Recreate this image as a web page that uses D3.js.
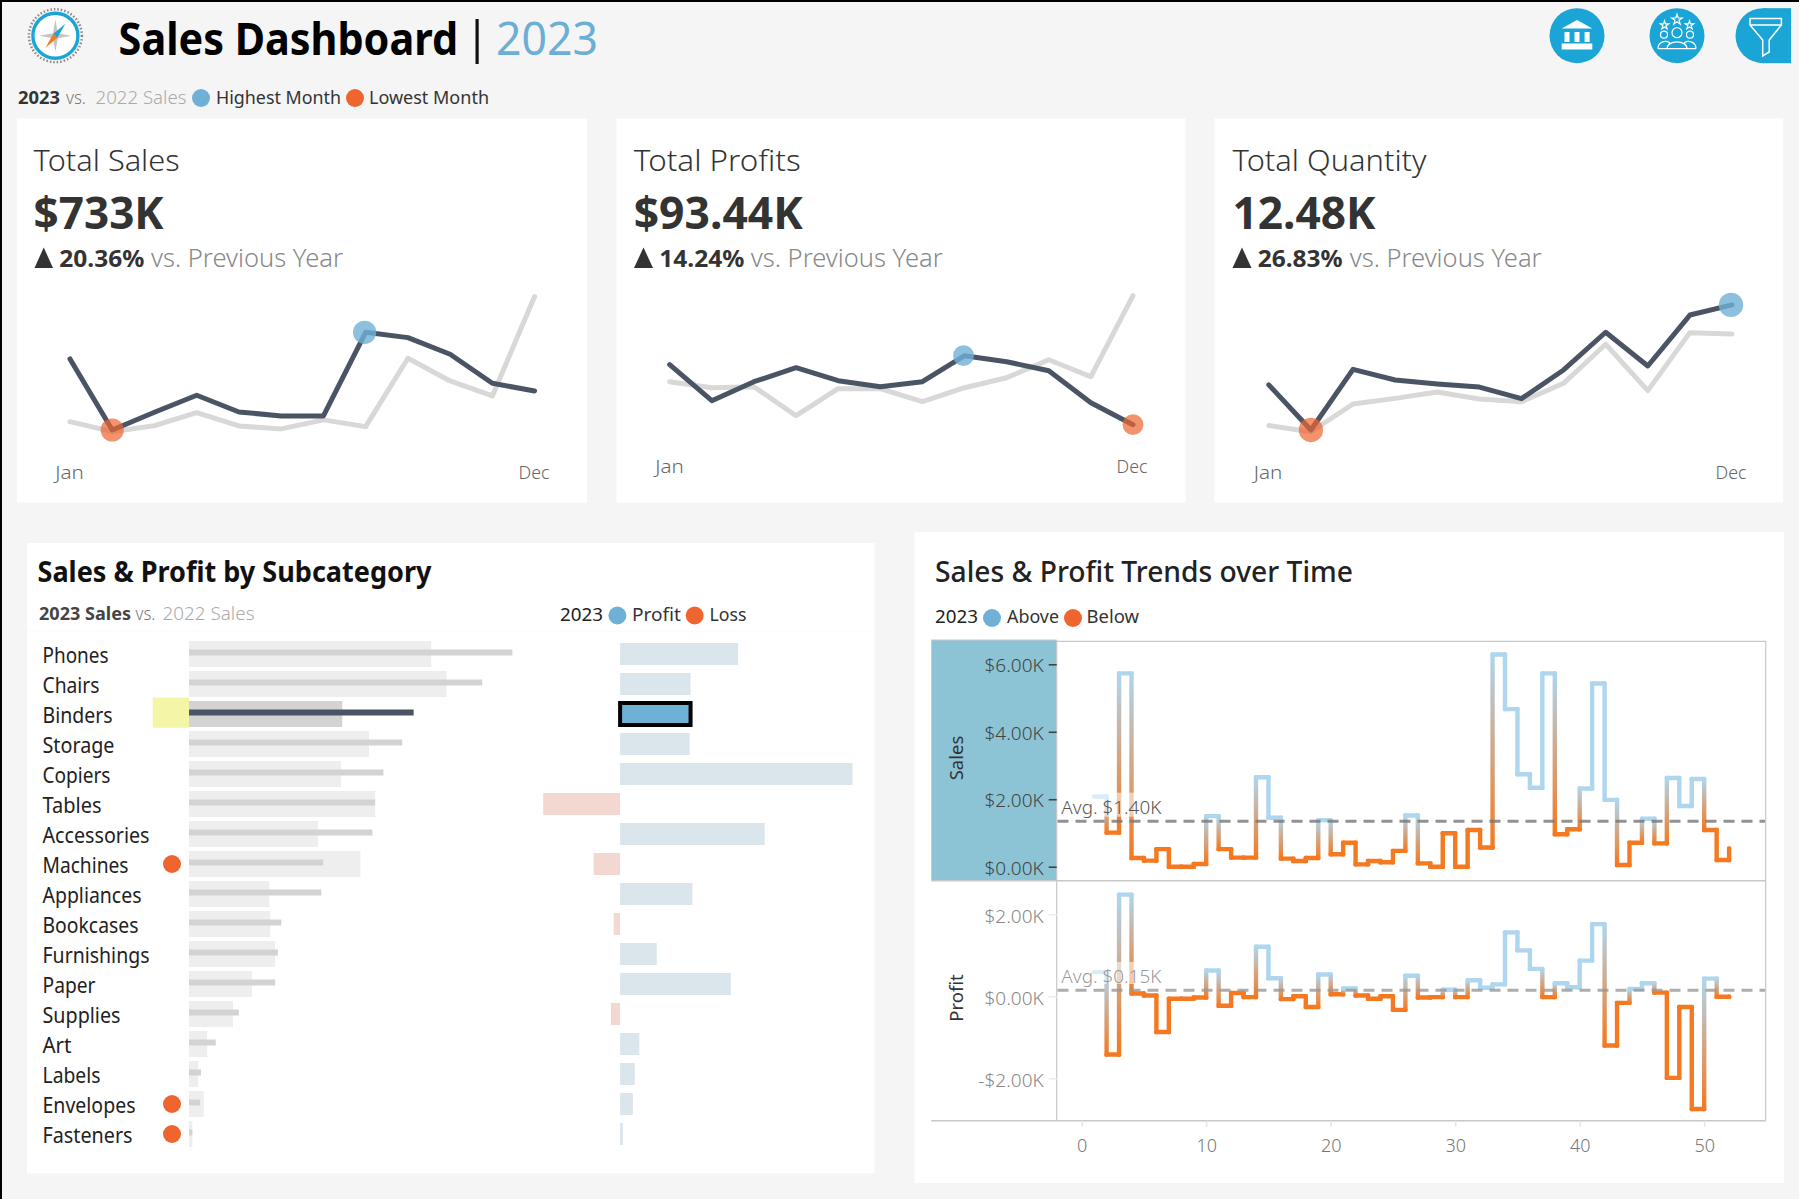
<!DOCTYPE html>
<html><head><meta charset="utf-8">
<script src="https://cdn.jsdelivr.net/npm/d3@7"></script>
<style>html,body{margin:0;padding:0;background:#f5f5f5;overflow:hidden}svg{display:block}text{font-family:"Noto Sans","Open Sans",sans-serif}</style>
</head><body><svg id="c" width="1799" height="1199"></svg>
<script>
const months = ["Jan","Feb","Mar","Apr","May","Jun","Jul","Aug","Sep","Oct","Nov","Dec"];
const sales2023 = [81.4,29.4,42.4,54.8,42.6,39.7,39.7,100.9,97,84.8,63.6,58];
const sales2022 = [35.5,28.2,32.6,42.1,32.4,30.2,36.8,31.9,81.9,65.3,54.3,127];
const profit2023 = [9.5,5.9,7.8,9.2,7.9,7.3,7.8,10.4,9.8,8.9,5.7,3.5];
const profit2022 = [7.8,7.2,7.3,4.4,7.1,7.1,5.8,7.2,8.2,10,8.3,16.4];
const qty2023 = [917,579,1034,954,924,901,814,1029,1312,1059,1441,1517];
const qty2022 = [612,566,774,816,864,811,791,929,1222,874,1309,1299];
const subcategories = ["Phones","Chairs","Binders","Storage","Copiers","Tables","Accessories","Machines","Appliances","Bookcases","Furnishings","Paper","Supplies","Art","Labels","Envelopes","Fasteners"];
const subSales2023 = [105.1,95.3,73.0,69.3,63.2,60.5,59.6,43.6,43.0,30.0,28.9,28.0,16.2,8.7,3.9,3.6,1.1];
const subSales2022 = [78.7,83.7,49.8,58.5,49.4,60.5,41.9,55.7,26.1,26.4,28.0,20.5,14.3,5.9,3.0,4.8,1.1];
const subProfit = [12.9,7.7,7.7,7.6,25.4,-8.4,15.8,-2.9,7.9,-0.7,4.0,12.1,-1.0,2.1,1.6,1.4,0.3];
const flagged = ["Machines","Envelopes","Fasteners"];
const weeks = d3.range(1,53);
const weeklySales = [2.08,1.01,5.73,0.26,0.18,0.52,0,0,0.08,1.50,0.52,0.27,0.27,2.65,1.45,0.24,0.17,0.26,1.38,0.37,0.71,0.07,0.17,0.13,0.47,1.52,0.10,0,0.99,0,1.09,0.57,6.29,4.67,2.74,2.34,5.73,0.96,1.11,2.32,5.43,1.98,0.05,0.71,1.42,0.69,2.63,1.80,2.60,1.09,0.20,0.54];
const weeklyProfit = [0.59,-1.42,2.48,0.07,0.02,-0.87,-0.06,-0.06,-0.03,0.63,-0.23,0.08,-0.02,1.21,0.44,-0.07,0,-0.26,0.53,0.05,0.19,0.02,-0.06,0,-0.33,0.50,-0.03,-0.02,0.16,-0.02,0.39,0.21,0.29,1.56,1.12,0.67,-0.02,0.32,0.22,0.87,1.76,-1.20,-0.16,0.18,0.32,0.09,-1.99,-0.26,-2.75,0.43,-0.01,-0.01];
const avgSales = 1.345, avgProfit = 0.146;
const salesTicks = [0,2,4,6], profitTicks = [-2,0,2], weekTicks = [0,10,20,30,40,50];

const BLUE="#6fb0d6", ORANGE="#ee6530", DARK="#333", LINE="#4a5464";
const svg=d3.select("#c");
const defs=svg.append("defs");
function T(g,x,y,s,o={}){
  const t=g.append("text").attr("x",x).attr("y",y).text(s)
   .attr("font-size",o.size||18).attr("font-weight",o.weight||400).attr("fill",o.fill||"#333")
   .attr("text-anchor",o.anchor||"start");
  if(o.w){t.attr("textLength",o.w).attr("lengthAdjust","spacingAndGlyphs");}
  if(o.op)t.attr("opacity",o.op);
  return t;
}
function R(g,x,y,w,h,f){return g.append("rect").attr("x",x).attr("y",y).attr("width",w).attr("height",h).attr("fill",f);}
function C(g,x,y,r,f,op){return g.append("circle").attr("cx",x).attr("cy",y).attr("r",r).attr("fill",f).attr("opacity",op==null?1:op);}

R(svg,0,0,1799,1199,"#f5f5f5");
R(svg,0,0,1799,2,"#000"); R(svg,0,0,2,1199,"#000");

// header
const logo=svg.append("g").attr("transform","translate(55.4,35.7)");
logo.append("circle").attr("r",26.5).attr("fill","none").attr("stroke","#8a8a8a").attr("stroke-width",2.5).attr("stroke-dasharray","1.5 2");
logo.append("circle").attr("r",22.5).attr("fill","#fff").attr("stroke","#1aa5d6").attr("stroke-width",3.4);
logo.append("path").attr("d","M0,-16L2.5,-2.5L16,0L2.5,2.5L0,16L-2.5,2.5L-16,0L-2.5,-2.5Z").attr("fill","#c4c4c4");
logo.append("path").attr("d","M10,-12L2,2L-2,-2Z").attr("fill","#1aa5d6");
logo.append("path").attr("d","M-10,12L-2,-2L2,2Z").attr("fill","#f47920");

T(svg,118.6,55,"Sales Dashboard",{size:45,weight:700,fill:"#000",w:339.5});
R(svg,475.5,19,3.2,45,"#111");
T(svg,496,55,"2023",{size:45,fill:"#6baed6",w:102});

T(svg,18,103.5,"2023",{size:18.5,weight:700,w:42});
T(svg,66,103.5,"vs.",{size:18.5,fill:"#777",weight:300,w:20});
T(svg,95.5,103.5,"2022 Sales",{size:18.5,fill:"#aaa",weight:300,w:91});
C(svg,201,98,9,BLUE);
T(svg,216,103.5,"Highest Month",{size:18.5,w:125});
C(svg,355,98,9,ORANGE);
T(svg,369,103.5,"Lowest Month",{size:18.5,w:120});

// icons
const ICON="#1aa5d6";
C(svg,1577,35.7,27.5,ICON); C(svg,1677,35.7,27.5,ICON);
defs.append("clipPath").attr("id","fclip").append("rect").attr("x",1730).attr("y",0).attr("width",61).attr("height",80);
const fg=svg.append("g").attr("clip-path","url(#fclip)");
C(fg,1763,35.7,27.5,ICON); R(fg,1763,8.2,30,55,ICON);
const bank=svg.append("g").attr("transform","translate(1577,0)").attr("fill","#fff");
bank.append("path").attr("d","M0,20L15.3,28.5L-15.3,28.5Z");
[-12.5,-2.5,7.6].forEach(x=>R(bank,x,32,5,10,"#fff"));
R(bank,-15.3,43.5,30.6,6,"#fff");
const ppl=svg.append("g").attr("transform","translate(1677,35.7)").attr("fill","none").attr("stroke","#fff").attr("stroke-width",1.2);
[[-13,-1,3.5],[13,-1,3.5],[0,-3,5]].forEach(d=>ppl.append("circle").attr("cx",d[0]).attr("cy",d[1]).attr("r",d[2]));
ppl.append("path").attr("d","M-19,13C-19,5 -8,4 -7,8M19,13C19,5 8,4 7,8M-10,13C-10,4 10,4 10,13M-19,13H19");
const star=d3.symbol().type(d3.symbolStar);
[[-12.5,-10.5,22],[0,-16,34],[12.5,-10.5,22]].forEach(d=>ppl.append("path").attr("d",star.size(d[2])()).attr("transform",`translate(${d[0]},${d[1]})`));
svg.append("path").attr("d","M1750,18.5H1781.4V25L1769.2,40V52L1762.7,56V40L1750,25ZM1750,25H1781.4").attr("fill","none").attr("stroke","#fff").attr("stroke-width",1.5);

// KPI cards
const cards=[
 {x:17,w:570,title:"Total Sales",tw:146,val:"$733K",vw:130,pct:"20.36%",tx:33.6,tri:[34.5,53],px:59.3,pw:85,vx:151,vsw:192,cur:sales2023,pre:sales2022,
  xr:[70,534.6],dom:[0,130],yr:[470.2,292.5],hi:7,lo:1,r:11.6,lab:479,labx:[69.5,534]},
 {x:616.5,w:569,title:"Total Profits",tw:167,val:"$93.44K",vw:169,pct:"14.24%",tx:633.7,tri:[634,653],px:659.3,pw:85,vx:750.8,vsw:192,cur:profit2023,pre:profit2022,
  xr:[669.7,1133],dom:[0,20],yr:[459.7,259.7],hi:7,lo:11,r:10.4,lab:472.7,labx:[669.5,1132]},
 {x:1214.5,w:568.5,title:"Total Quantity",tw:194,val:"12.48K",vw:143,pct:"26.83%",tx:1232.5,tri:[1232.5,1251.5],px:1257.7,pw:85,vx:1349.7,vsw:192,cur:qty2023,pre:qty2022,
  xr:[1268.8,1732],dom:[0,2000],yr:[507.2,240.5],hi:11,lo:1,r:12.2,lab:479,labx:[1268,1731]}
];
cards.forEach(c=>{
  const g=svg.append("g");
  R(g,c.x,118.5,c.w,384,"#fff");
  T(g,c.tx,171,c.title,{size:29.5,weight:300,fill:"#333",w:c.tw});
  T(g,c.tx,228.5,c.val,{size:44,weight:700,fill:"#333",w:c.vw});
  g.append("path").attr("d",`M${c.tri[0]},268H${c.tri[1]}L${(c.tri[0]+c.tri[1])/2},247.5Z`).attr("fill","#333");
  T(g,c.px,266.5,c.pct,{size:24,weight:700,fill:"#333",w:c.pw});
  T(g,c.vx,266.5,"vs. Previous Year",{size:25,weight:300,fill:"#888",w:c.vsw});
  const x=d3.scalePoint().domain(months).range(c.xr), y=d3.scaleLinear().domain(c.dom).range(c.yr);
  const line=d3.line().x((d,i)=>x(months[i])).y(d=>y(d));
  g.append("path").attr("d",line(c.pre)).attr("fill","none").attr("stroke","#d8d8d8").attr("stroke-width",5).attr("stroke-linecap","round").attr("stroke-linejoin","round");
  g.append("path").attr("d",line(c.cur)).attr("fill","none").attr("stroke",LINE).attr("stroke-width",5).attr("stroke-linecap","round").attr("stroke-linejoin","round");
  C(g,x(months[c.hi])-1,y(c.cur[c.hi]),c.r,BLUE,.8);
  C(g,x(months[c.lo]),y(c.cur[c.lo]),c.r,ORANGE,.7);
  T(g,c.labx[0],c.lab,"Jan",{size:18.5,weight:300,fill:"#666",anchor:"middle",w:28.5});
  T(g,c.labx[1],c.lab,"Dec",{size:18.5,weight:300,fill:"#666",anchor:"middle",w:31});
});

// subcategory panel
const p4=svg.append("g");
R(p4,27,543,847.5,630.5,"#fff");
T(p4,37.5,581.5,"Sales & Profit by Subcategory",{size:28.5,weight:700,fill:"#111",w:394});
T(p4,39,620,"2023 Sales",{size:18.5,weight:700,fill:"#444",w:92});
T(p4,135.5,620,"vs.",{size:18.5,weight:300,fill:"#777",w:20});
T(p4,162.5,620,"2022 Sales",{size:18.5,weight:300,fill:"#aaa",w:92});
T(p4,560,621,"2023",{size:18.5,fill:"#222",w:43});
C(p4,617.4,615.5,9,BLUE); T(p4,632,621,"Profit",{size:18.5,w:49});
C(p4,694.7,615.5,9,ORANGE); T(p4,709.5,621,"Loss",{size:18.5,w:37});
R(p4,27,631,846,1,"#fbfbfb");

const band=d3.scaleBand().domain(subcategories).range([639,1149]);
const cy=n=>band(n)+band.bandwidth()/2;
const xs=d3.scaleLinear().domain([0,130]).range([189,589]);
const xp=d3.scaleLinear().domain([-10,30]).range([528.6,894.6]);
R(p4,152.7,697.6,36.3,30.2,"#f5f5a8");
const labelW={Phones:66,Chairs:57,Binders:70,Storage:72,Copiers:68,Tables:59,Accessories:107,Machines:86,Appliances:99,Bookcases:96,Furnishings:107,Paper:53,Supplies:78,Art:29,Labels:58,Envelopes:93,Fasteners:90};
subcategories.forEach((n,i)=>{
  const sel=n==="Binders", m=cy(n);
  T(p4,42.5,m+9,n,{size:21,fill:"#222",w:labelW[n]});
  R(p4,xs(0),m-13,xs(subSales2022[i])-xs(0),26,sel?"#d3d3d3":"#eeeeee");
  R(p4,xs(0),m-4.5,xs(subSales2023[i])-xs(0),6,sel?LINE:"#d3d3d3");
  const v=subProfit[i], x0=xp(Math.min(0,v)), w=Math.abs(xp(v)-xp(0));
  const b=R(p4,x0,m-11,w,22,sel?BLUE:(v<0?"#f2d8d0":"#dbe6ec"));
  if(sel)b.attr("stroke","#000").attr("stroke-width",4);
  if(flagged.includes(n))C(p4,172,m,9,ORANGE);
});

// trends panel
const p5=svg.append("g");
R(p5,914.5,532,869.5,651,"#fff");
T(p5,935,581.5,"Sales & Profit Trends over Time",{size:28,weight:500,fill:"#222",w:418});
T(p5,935,623,"2023",{size:18.5,fill:"#222",w:43});
C(p5,992,618,9,BLUE); T(p5,1007,623,"Above",{size:18.5,w:52});
C(p5,1073,618,9,ORANGE); T(p5,1086.5,623,"Below",{size:18.5,w:52.5});

const GRID="#c8c8c8";
R(p5,931.3,640,125.4,240.5,"#8cc3d5");
const X=d3.scaleLinear().domain([-2,55]).range([1056.8,1766.45]);
const yS=d3.scaleLinear().domain([0,6]).range([866.7,664.3]);
const yP=d3.scaleLinear().domain([-2,2]).range([1078.3,914.3]);
const L=(x1,y1,x2,y2,c,w)=>p5.append("line").attr("x1",x1).attr("y1",y1).attr("x2",x2).attr("y2",y2).attr("stroke",c).attr("stroke-width",w);
L(1056.7,641.3,1765.7,641.3,GRID,1.2);
L(931.3,640,1056.7,640,GRID,1.2);
L(931.3,880.7,1765.7,880.7,GRID,1.6);
L(931.3,1120.7,1765.7,1120.7,GRID,1.6);
L(1056.7,640,1056.7,1120.7,GRID,1.2);
L(1765.7,641,1765.7,1120.7,GRID,1.2);

const LB="#aed6ee", LO="#f47920", SW=4.4;
let gid=0;
function stepLine(g,vals,y,avg){
  const col=v=>v>=avg?LB:LO;
  vals.forEach((v,i)=>{
    const w=weeks[i];
    if(i>0){
      const p=vals[i-1], a=col(p), b=col(v);
      let stroke=a;
      if(a!==b){
        const id="g"+(gid++);
        const gr=defs.append("linearGradient").attr("id",id).attr("gradientUnits","userSpaceOnUse")
          .attr("x1",X(w)).attr("x2",X(w)).attr("y1",y(p)).attr("y2",y(v));
        gr.append("stop").attr("offset",0).attr("stop-color",a);
        gr.append("stop").attr("offset",1).attr("stop-color",b);
        stroke=`url(#${id})`;
      }
      g.append("rect").attr("x",X(w)-SW/2).attr("y",Math.min(y(p),y(v))-SW/2).attr("width",SW).attr("height",Math.abs(y(p)-y(v))+SW).attr("rx",1.5).attr("fill",stroke);
    }
    if(i<vals.length-1){
      g.append("line").attr("x1",X(w)).attr("x2",X(w+1)).attr("y1",y(v)).attr("y2",y(v)).attr("stroke",col(v)).attr("stroke-width",SW).attr("stroke-linecap","round");
    }
  });
}
stepLine(p5.append("g"),weeklySales,yS,avgSales);
stepLine(p5.append("g"),weeklyProfit,yP,avgProfit);

// average reference lines and labels
R(p5,1058,792.7,104,24,"rgba(255,255,255,.55)");
R(p5,1058,962,104,22,"rgba(255,255,255,.55)");
L(1057.5,yS(avgSales),1765,yS(avgSales),"#777",3).attr("stroke-dasharray","11 7").attr("opacity",.8);
L(1057.5,yP(avgProfit),1765,yP(avgProfit),"#999",3).attr("stroke-dasharray","11 7").attr("opacity",.8);
T(p5,1061.3,814,"Avg. $1.40K",{size:18,weight:300,fill:"#555",w:100});
T(p5,1061.3,983,"Avg. $0.15K",{size:18,weight:300,fill:"#999",w:100});

// axes
const fmtK=d=>(d<0?"-":"")+"$"+Math.abs(d).toFixed(2)+"K";
function styleAxis(g,textC,tickC,size,dy){
  g.select(".domain").remove();
  g.selectAll(".tick line").attr("stroke",tickC).attr("stroke-width",1.6);
  g.selectAll(".tick text").attr("fill",textC).attr("font-size",size).attr("font-weight",300).attr("font-family",'"Noto Sans","Open Sans",sans-serif');
  if(dy)g.selectAll(".tick text").attr("dy",dy);
}
const ax1=p5.append("g").attr("transform","translate(1056.7,0)").call(d3.axisLeft(yS).tickValues(salesTicks).tickFormat(fmtK).tickSize(8).tickPadding(5));
styleAxis(ax1,"#444","#444",19,"0.4em");
const ax2=p5.append("g").attr("transform","translate(1056.7,0)").call(d3.axisLeft(yP).tickValues(profitTicks).tickFormat(fmtK).tickSize(8).tickPadding(5));
styleAxis(ax2,"#888","#eee",19,"0.44em");
const ax3=p5.append("g").attr("transform","translate(0,1120.7)").call(d3.axisBottom(X).tickValues(weekTicks).tickSize(6).tickPadding(13));
styleAxis(ax3,"#777","#e6e6e6",18);
const vt=(s,yy)=>T(p5,0,0,s,{size:18.5,fill:"#333",anchor:"middle"}).attr("transform",`translate(963,${yy}) rotate(-90)`);
vt("Sales",758); vt("Profit",998);
</script></body></html>
